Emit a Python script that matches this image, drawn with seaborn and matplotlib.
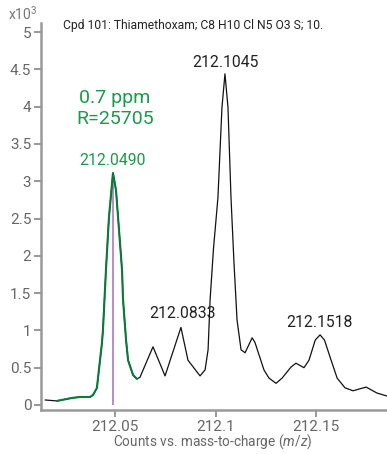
import matplotlib
matplotlib.use("Agg")
import matplotlib.pyplot as plt
import seaborn as sns
import pandas as pd
import numpy as np

# Trace (m/z, counts x10^3)
mz = [212.0152, 212.0211, 212.0286, 212.0326, 212.0376, 212.0391, 212.0410, 212.0420,
      212.0435, 212.0440, 212.0455, 212.0470, 212.0490, 212.0505, 212.0535, 212.0540,
      212.0555, 212.0565, 212.0590, 212.0609, 212.0624, 212.0689, 212.0749, 212.0828,
      212.0863, 212.0923, 212.0948, 212.0963, 212.0973, 212.0990, 212.1012, 212.1032,
      212.1047, 212.1062, 212.1077, 212.1092, 212.1107, 212.1127, 212.1147, 212.1182,
      212.1196, 212.1241, 212.1266, 212.1301, 212.1331, 212.1376, 212.1400, 212.1440,
      212.1465, 212.1496, 212.1520, 212.1542, 212.1580, 212.1605, 212.1644, 212.1684,
      212.1749, 212.1803, 212.1853]
counts = [0.067, 0.054, 0.094, 0.107, 0.107, 0.134, 0.228, 0.469,
          0.83, 1.00, 1.81, 2.52, 3.11, 2.88, 1.81, 1.41,
          0.87, 0.60, 0.40, 0.35, 0.37, 0.78, 0.39, 1.04,
          0.60, 0.39, 0.47, 0.74, 1.41, 2.10, 2.78, 3.99,
          4.44, 3.99, 2.78, 1.90, 1.14, 0.74, 0.70, 0.90,
          0.84, 0.47, 0.36, 0.29, 0.36, 0.51, 0.56, 0.50,
          0.60, 0.87, 0.94, 0.87, 0.56, 0.36, 0.23, 0.19,
          0.24, 0.16, 0.12]

green_range = (212.0211, 212.0609)
marker_mz = 212.0490
marker_top = 3.08

peak_labels = ["212.0490", "212.1045", "212.0833", "212.1518"]
peak_mz = [212.0490, 212.1047, 212.0835, 212.1518]
peak_y = [3.28, 4.59, 1.22, 1.10]
peak_colors = ["#1a9a4a", "#222222", "#222222", "#222222"]

xticks = [212.05, 212.1, 212.15]
xtick_labels = ["212.05", "212.1", "212.15"]
yticks = [0, 0.5, 1, 1.5, 2, 2.5, 3, 3.5, 4, 4.5, 5]
ytick_labels = ["0", "0.5", "1", "1.5", "2", "2.5", "3", "3.5", "4", "4.5", "5"]

title = "Cpd 101: Thiamethoxam; C8 H10 Cl N5 O3 S; 10."
ppm_lines = ["0.7 ppm", "R=25705"]
ppm_y = [4.12, 3.84]

sns.set_style("ticks")
plt.rcParams['font.family'] = ['Roboto', 'DejaVu Sans']
plt.rcParams['mathtext.fontset'] = 'custom'
plt.rcParams['mathtext.rm'] = 'Roboto'
plt.rcParams['mathtext.it'] = 'Roboto:italic'

df = pd.DataFrame({"mz": mz, "counts": counts})
dfg = df[(df.mz >= green_range[0]) & (df.mz <= green_range[1])]

fig = plt.figure(figsize=(3.87, 4.54), dpi=100)
ax = fig.add_axes([0.106, 0.097, 0.894, 0.852])

sns.lineplot(data=df, x="mz", y="counts", ax=ax, color="#111111", linewidth=0.9, sort=False)
sns.lineplot(data=dfg, x="mz", y="counts", ax=ax, color="#0a7a3a", linewidth=1.5, sort=False)
ax.vlines(marker_mz, 0, marker_top, color="#b890c4", linewidth=1.5, zorder=1)

for lab, px, py, c in zip(peak_labels, peak_mz, peak_y, peak_colors):
    ax.text(px, py, lab, ha="center", va="center", fontsize=11.3, color=c)

for t, yy in zip(ppm_lines, ppm_y):
    ax.text(212.0500, yy, t, ha="center", va="center", fontsize=14, color="#1a9a4a")

ax.set_xlim(212.0132, 212.1853)
ax.set_ylim(-0.067, 5.12)
ax.set_xticks(xticks)
ax.set_xticklabels(xtick_labels)
ax.set_yticks(yticks)
ax.set_yticklabels(ytick_labels)
ax.tick_params(axis="both", colors="#888888", labelcolor="#666666", labelsize=11,
               length=5, width=1.2, pad=2)
for s in ["top", "right"]:
    ax.spines[s].set_visible(False)
for s in ["left", "bottom"]:
    ax.spines[s].set_color("#999999")
    ax.spines[s].set_linewidth(1.8)

ax.set_xlabel("")
ax.set_ylabel("")
fig.text(213 / 387, 1 - 442 / 454, r"Counts vs. mass-to-charge ($m/z$)", fontsize=9.8,
         color="#666666", ha="center", va="center")

fig.text(8 / 387, 1 - 14 / 454, r"x10$^{3}$", fontsize=10, color="#777777",
         ha="left", va="center")
fig.text(63 / 387, 1 - 25 / 454, title, fontsize=8.7, color="#222222",
         ha="left", va="center")

fig.savefig("out.png", dpi=100)
